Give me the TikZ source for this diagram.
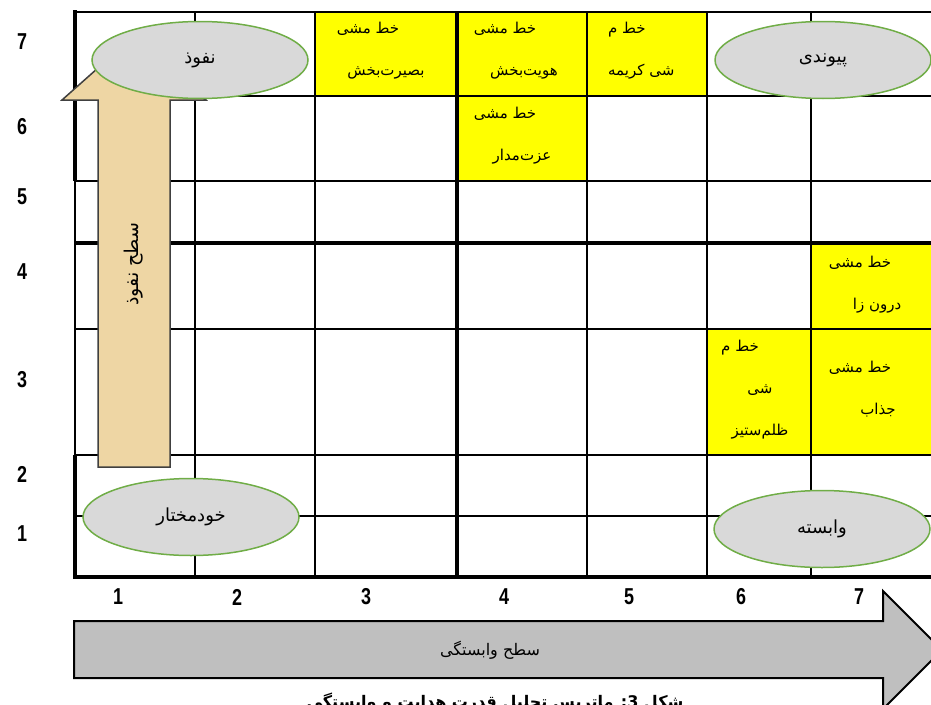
\documentclass[tikz,border=0pt]{standalone}
\usepackage{fontspec}
\newfontfamily\farsi[Script=Arabic]{DejaVu Sans}
\newfontfamily\numfont[FakeStretch=0.78]{Liberation Sans}
\TeXXeTstate=1
\usepackage{xcolor}
\definecolor{cellyel}{RGB}{255,255,0}
\definecolor{ovalfill}{RGB}{217,217,217}
\definecolor{ovalline}{RGB}{112,173,71}
\definecolor{papyrus}{RGB}{238,214,164}
\definecolor{barfill}{RGB}{191,191,191}
\usetikzlibrary{shapes.geometric}
\newcommand\fa[1]{{\farsi\beginR#1\endR}}
\tikzset{
  gridline/.style={draw=black,line width=2pt},
  boldline/.style={draw=black,line width=4pt},
  cell/.style={font=\fontsize{15}{42}\selectfont,inner sep=0pt,align=center},
  oval/.style={ellipse,draw=ovalline,fill=ovalfill,line width=1.5pt,%
    minimum width=216pt,minimum height=77pt,inner sep=0pt,font=\fontsize{18}{20}\selectfont},
  num/.style={font=\numfont\bfseries\fontsize{23}{26}\selectfont,inner sep=0pt},
  uparrow/.style={fill=papyrus,draw=black!75,line width=1.5pt},
  axisbar/.style={fill=barfill,draw=black,line width=2pt},
}
\begin{document}
\begin{tikzpicture}[x=1pt,y=-1pt]
\useasboundingbox (0,0) rectangle (931,704);
% yellow cells
\fill[cellyel] (315,12) rectangle (457,96);
\fill[cellyel] (457,12) rectangle (587,96);
\fill[cellyel] (457,96) rectangle (587,181);
\fill[cellyel] (587,12) rectangle (707,96);
\fill[cellyel] (811,243) rectangle (940,329);
\fill[cellyel] (811,329) rectangle (940,455);
\fill[cellyel] (707,329) rectangle (811,455);
% grid
\foreach \y in {12,96,181,329,455,516}
  \draw[gridline] (75,\y) -- (940,\y);
\foreach \x in {195,315,587,707,811}
  \draw[gridline] (\x,12) -- (\x,577);
\draw[gridline] (75,181) -- (75,455);
\draw[boldline] (75,10) -- (75,181);
\draw[boldline] (75,455) -- (75,579);
\draw[boldline] (457,12) -- (457,577);
\draw[boldline] (75,243) -- (940,243);
\draw[boldline] (73,577) -- (940,577);
% influence arrow
\draw[uparrow] (98,467) -- (170,467) -- (170,100) -- (206,100) -- (134,36)
  -- (62,100) -- (98,100) -- cycle;
\node[rotate=90,font=\fontsize{19}{21}\selectfont] (lnaf) at (134,264) {\fa{سطح نفوذ}};
% ovals
\node[oval] (naf)  at (200,60)  {\fa{نفوذ}};
\node[oval] (pay)  at (823,60)  {\fa{پیوندی}};
\node[oval] (khod) at (191,517) {\fa{خودمختار}};
\node[oval] (vab)  at (822,529) {\fa{وابسته}};
% policies
\node[cell] (c37) at (386,51)  {\fa{خط مشی}\hspace{36pt}\null\\\fa{بصیرت‌بخش}};
\node[cell] (c47) at (524,51)  {\fa{خط مشی}\hspace{38pt}\null\\\fa{هویت‌بخش}};
\node[cell] (c46) at (522,136) {\fa{خط مشی}\hspace{34pt}\null\\\fa{عزت‌مدار}};
\node[cell,align=left,anchor=west] (c57) at (608,51) {\fa{خط م}\\\fa{شی کریمه}};
\node[cell] (c74) at (877,285) {\fa{خط مشی}\hspace{34pt}\null\\\fa{درون زا}};
\node[cell] (c73) at (878,389) {\fa{خط مشی}\hspace{36pt}\null\\\fa{جذاب}};
\node[cell] (c63) at (760,390) {\fa{خط م}\hspace{40pt}\null\\\fa{شی}\\\fa{ظلم‌ستیز}};
% row numbers
\foreach \n/\y in {7/42,6/127,5/197,4/272,3/380,2/474,1/534}
  \node[num] (r\n) at (22,\y) {\n};
% column numbers
\foreach \n/\x in {1/118,2/237,3/366,4/504,5/629,6/741,7/859}
  \node[num] (k\n) at (\x,597) {\n};
% dependence arrow
\draw[axisbar] (74,621) -- (883,621) -- (883,591) -- (942,650) -- (883,709)
  -- (883,678) -- (74,678) -- cycle;
\node[font=\fontsize{16}{18}\selectfont] (lvab) at (490,650) {\fa{سطح وابستگی}};
% caption (cut by the page edge)
\node[anchor=base,font=\bfseries\fontsize{16}{18}\selectfont,inner sep=0pt] (cap)
  at (495,707) {\fa{شکل 3: ماتریس تحلیل قدرت هدایت و وابستگی}};
\end{tikzpicture}
\end{document}
